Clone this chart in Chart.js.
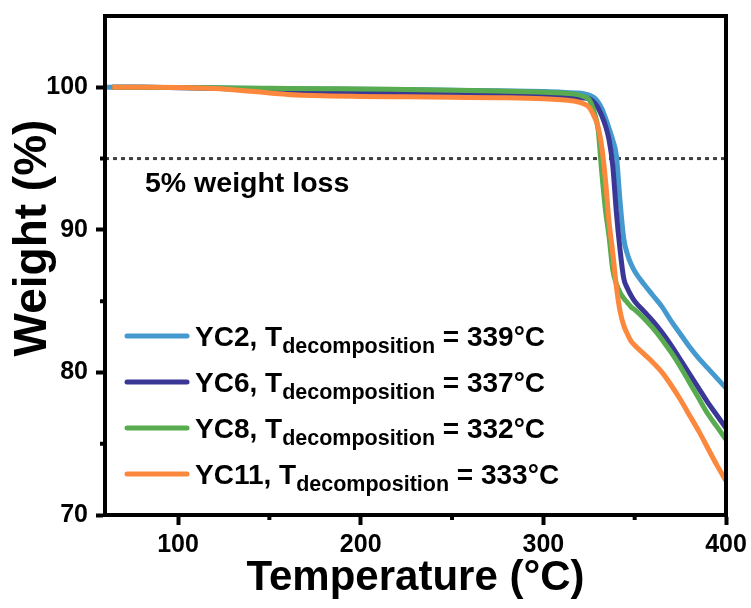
<!DOCTYPE html>
<html>
<head>
<meta charset="utf-8">
<script src="https://cdn.jsdelivr.net/npm/chart.js@4.4.1/dist/chart.umd.min.js"></script>
<style>
  html, body { margin: 0; padding: 0; background: #fff; }
  #wrap { width: 751px; height: 608px; }
</style>
</head>
<body>
<div id="wrap"><canvas id="tga"></canvas></div>
<script>
// temperature grid (°C) and weight (%)
const temperatures = [60, 64, 80, 100, 120, 140, 160, 180, 200, 225, 250, 275, 300,
  310, 318, 322, 325, 328, 330, 332, 334, 336, 338, 340, 342, 344, 346, 348, 350,
  355, 360, 365, 370, 375, 380, 385, 390, 395, 400];

const yc2 = [100, 100, 100, 99.98, 99.96, 99.93, 99.9, 99.88, 99.86, 99.83, 99.8, 99.76, 99.7,
  99.66, 99.6, 99.55, 99.45, 99.25, 98.95, 98.5, 97.85, 97.1, 96.3, 95.2, 92.0, 89.4, 88.3, 87.6, 87.1,
  86.2, 85.4, 84.6, 83.6, 82.7, 81.8, 81.0, 80.3, 79.6, 78.9];
const yc6 = [null, 100, 100, 99.97, 99.93, 99.85, 99.75, 99.66, 99.58, 99.55, 99.52, 99.48, 99.42,
  99.36, 99.3, 99.25, 99.2, 98.9, 98.55, 98.0, 97.3, 96.3, 94.5, 91.2, 88.6, 86.6, 85.9, 85.4, 85.0,
  84.3, 83.6, 82.8, 81.9, 80.9, 79.9, 78.9, 77.9, 77.0, 76.1];
const yc8 = [null, 100, 100, 99.98, 99.96, 99.94, 99.92, 99.9, 99.88, 99.84, 99.8, 99.74, 99.66,
  99.6, 99.5, 99.35, 99.15, 98.2, 97.0, 94.0, 91.4, 89.5, 87.2, 86.2, 85.6, 85.2, 84.9, 84.6, 84.4,
  83.8, 83.1, 82.3, 81.4, 80.4, 79.3, 78.2, 77.1, 76.2, 75.3];
const yc11 = [null, 100, 100, 99.99, 99.92, 99.72, 99.5, 99.4, 99.36, 99.33, 99.3, 99.27, 99.2,
  99.12, 99.0, 98.85, 98.6, 97.9, 97.2, 95.8, 93.5, 90.5, 88.4, 86.0, 84.3, 83.3, 82.7, 82.2, 81.9,
  81.3, 80.7, 80.0, 79.1, 78.1, 77.0, 75.9, 74.7, 73.5, 72.4];

const sampleNames = ['YC2', 'YC6', 'YC8', 'YC11'];
const decompTemps = [339, 337, 332, 333];
const colors = ['#4499cf', '#3b3796', '#58ab4f', '#fb883d'];

const xMajorTicks = [100, 200, 300, 400];
const xMinorTicks = [150, 250, 350];
const yMajorTicks = [70, 80, 90, 100];
const yMinorTicks = [75, 85, 95];
const lossLevel = 95;

const FONT = '"Liberation Sans", Arial, sans-serif';

function toPoints(values) {
    const pts = [];
    values.forEach((v, i) => {
        if (v !== null) pts.push({ x: temperatures[i], y: v });
    });
    return pts;
}

const seriesValues = [yc2, yc6, yc8, yc11];

// minor ticks, frame, 5% line, titles and the legend with subscripts
const decorations = {
    id: 'decorations',
    beforeDatasetsDraw(chart) {
        const { ctx, chartArea, scales } = chart;
        const y = scales.y.getPixelForValue(lossLevel);
        ctx.save();
        ctx.strokeStyle = '#404040';
        ctx.lineWidth = 3;
        ctx.setLineDash([4, 4]);
        ctx.beginPath();
        ctx.moveTo(chartArea.left, y);
        ctx.lineTo(chartArea.right, y);
        ctx.stroke();
        ctx.restore();

        ctx.save();
        ctx.fillStyle = '#000';
        ctx.font = 'bold 28.5px ' + FONT;
        ctx.textBaseline = 'alphabetic';
        ctx.fillText('5% weight loss', 145, 192);
        ctx.restore();
    },
    afterDatasetsDraw(chart) {
        const { ctx, chartArea, scales } = chart;
        ctx.save();
        ctx.strokeStyle = '#000';
        ctx.lineWidth = 4;
        ctx.strokeRect(chartArea.left, chartArea.top, chartArea.right - chartArea.left, chartArea.bottom - chartArea.top);

        // minor ticks
        ctx.beginPath();
        xMinorTicks.forEach(v => {
            const px = scales.x.getPixelForValue(v);
            ctx.moveTo(px, chartArea.bottom);
            ctx.lineTo(px, chartArea.bottom + 5);
        });
        yMinorTicks.forEach(v => {
            const py = scales.y.getPixelForValue(v);
            ctx.moveTo(chartArea.left, py);
            ctx.lineTo(chartArea.left - 5, py);
        });
        ctx.stroke();
        ctx.restore();

        // axis titles
        ctx.save();
        ctx.fillStyle = '#000';
        ctx.textAlign = 'center';
        ctx.textBaseline = 'middle';
        ctx.font = 'bold 42px ' + FONT;
        ctx.fillText('Temperature (°C)', (chartArea.left + chartArea.right) / 2, 578);
        ctx.translate(33, 238);
        ctx.rotate(-Math.PI / 2);
        ctx.font = 'bold 46px ' + FONT;
        ctx.fillText('Weight (%)', 0, 0);
        ctx.restore();

        // legend
        const legendY = [336, 382, 428, 474];
        ctx.save();
        sampleNames.forEach((name, i) => {
            const ly = legendY[i];
            ctx.strokeStyle = colors[i];
            ctx.lineWidth = 5;
            ctx.lineCap = 'round';
            ctx.beginPath();
            ctx.moveTo(127, ly);
            ctx.lineTo(187, ly);
            ctx.stroke();

            ctx.fillStyle = '#000';
            ctx.textBaseline = 'alphabetic';
            let x = 195;
            ctx.font = 'bold 28px ' + FONT;
            const head = name + ', T';
            ctx.fillText(head, x, ly + 10);
            x += ctx.measureText(head).width;
            ctx.font = 'bold 21.5px ' + FONT;
            ctx.fillText('decomposition', x, ly + 17);
            x += ctx.measureText('decomposition').width;
            ctx.font = 'bold 28px ' + FONT;
            ctx.fillText(' = ' + decompTemps[i] + '°C', x, ly + 10);
        });
        ctx.restore();
    }
};

const ctx = document.getElementById('tga').getContext('2d');
new Chart(ctx, {
    type: 'line',
    data: {
        datasets: sampleNames.map((name, i) => ({
            label: name,
            data: toPoints(seriesValues[i]),
            borderColor: colors[i],
            backgroundColor: colors[i],
            borderWidth: 5,
            pointRadius: 0,
            fill: false,
            cubicInterpolationMode: 'monotone',
            order: 4 - i
        }))
    },
    options: {
        responsive: true,
        maintainAspectRatio: false,
        animation: false,
        layout: { padding: { top: 16, right: 25, left: 0, bottom: 0 } },
        plugins: {
            legend: { display: false },
            tooltip: { enabled: false }
        },
        scales: {
            x: {
                type: 'linear',
                min: 60,
                max: 400,
                afterBuildTicks: scale => { scale.ticks = xMajorTicks.map(v => ({ value: v })); },
                afterFit: scale => {
                    scale.height = 93;
                    scale.paddingLeft = 0;
                    scale.paddingRight = 0;
                },
                grid: { drawOnChartArea: false, tickLength: 10, tickWidth: 4, tickColor: '#000' },
                border: { display: true, color: '#000', width: 4 },
                ticks: {
                    color: '#000',
                    padding: 5,
                    maxRotation: 0,
                    font: { family: FONT, size: 25, weight: 'bold' }
                }
            },
            y: {
                min: 70,
                max: 105,
                afterBuildTicks: scale => { scale.ticks = yMajorTicks.map(v => ({ value: v })); },
                afterFit: scale => {
                    scale.width = 105;
                    scale.paddingTop = 0;
                    scale.paddingBottom = 0;
                },
                grid: { drawOnChartArea: false, tickLength: 9, tickWidth: 4, tickColor: '#000' },
                border: { display: true, color: '#000', width: 4 },
                ticks: {
                    color: '#000',
                    padding: 8,
                    font: { family: FONT, size: 25, weight: 'bold' }
                }
            }
        }
    },
    plugins: [decorations]
});
</script>
</body>
</html>
